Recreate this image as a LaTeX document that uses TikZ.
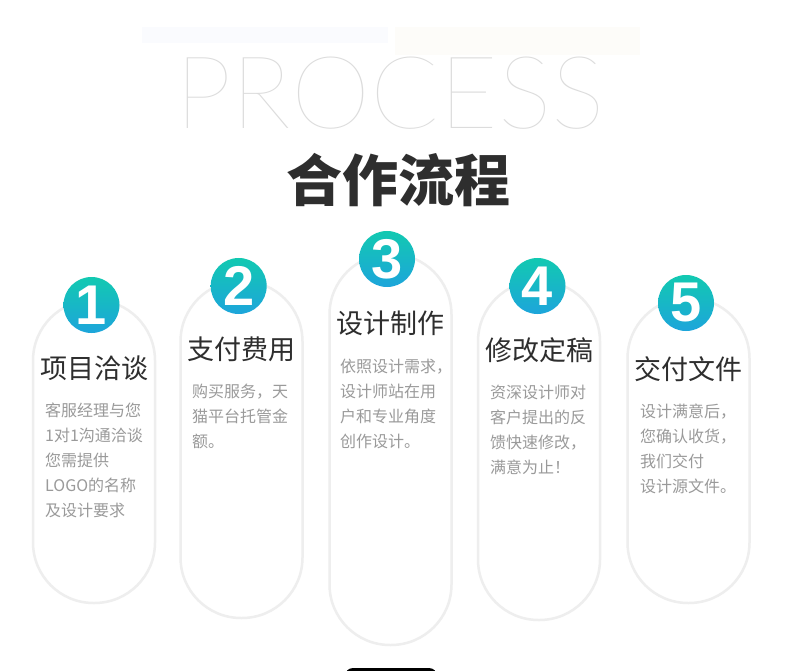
\documentclass[tikz,border=0pt]{standalone}
\usepackage{fontspec}
\setmainfont{Liberation Sans}
\newfontfamily\cjk{Noto Sans CJK SC}
\newfontfamily\thinfont{Lato Thin}
\newfontfamily\digitfont{Liberation Sans}
\definecolor{cardline}{HTML}{EEEEEE}
\definecolor{tealtop}{HTML}{12C9B1}
\definecolor{bluebot}{HTML}{1DA5DB}
\definecolor{headc}{HTML}{2E2E2E}
\definecolor{bodyc}{HTML}{9A9A9A}
\definecolor{procc}{HTML}{DCDCDC}
\definecolor{bandA}{HTML}{FAFBFE}
\definecolor{bandB}{HTML}{FDFCF9}
\tikzset{
  card/.style={draw=cardline, line width=2.5pt, fill=white, rounded corners=60.5pt,
    minimum width=122pt, inner sep=0pt},
  badge/.style={circle, minimum size=56pt, inner sep=0pt, top color=tealtop,
    bottom color=bluebot, text=white, font=\digitfont\bfseries\fontsize{56}{56}\selectfont},
  head/.style={text=headc, font=\cjk\fontsize{27}{27}\selectfont, inner sep=0pt, anchor=base},
  body/.style={text=bodyc, font=\cjk\fontsize{16}{25}\selectfont, inner sep=0pt,
    anchor=north west, text width=130pt, align=left},
  band/.style={inner sep=0pt, draw=none}
}
\begin{document}
\begin{tikzpicture}[x=1pt,y=-1pt]
\fill[white] (0,0) rectangle (790,671);
\useasboundingbox (0,0) rectangle (790,671);
\clip (0,0) rectangle (790,671);
% faint bands
\node[band, fill=bandA, minimum width=246pt, minimum height=16pt] (bandleft) at (265,35) {};
\node[band, fill=bandB, minimum width=245pt, minimum height=28pt] (bandright) at (517.5,41) {};
% titles
\node[text=procc, font=\thinfont\fontsize{101}{101}\selectfont, inner sep=0pt] (process) at (390,93) {PROCESS};
\node[text=headc, font=\cjk\bfseries\fontsize{56}{56}\selectfont, inner sep=0pt] (title) at (398,180) {合作流程};
% cards
\node[card, minimum height=303pt] (c1) at (94,451.5) {};
\node[card, minimum height=337pt] (c2) at (241.5,449.5) {};
\node[card, minimum height=391pt] (c3) at (390.5,449.5) {};
\node[card, minimum height=339pt] (c4) at (539,450.5) {};
\node[card, minimum height=305pt] (c5) at (688.5,450.5) {};
% badges
\node[badge] (b1) at (91.5,305) {1};
\node[badge] (b2) at (238.7,286) {2};
\node[badge] (b3) at (387,259) {3};
\node[badge] (b4) at (537.5,286) {4};
\node[badge] (b5) at (686,303) {5};
% headings
\node[head] (h1) at (94,378) {项目洽谈};
\node[head] (h2) at (241.5,359) {支付费用};
\node[head] (h3) at (390.5,333) {设计制作};
\node[head] (h4) at (539,360) {修改定稿};
\node[head] (h5) at (688.5,379) {交付文件};
% bodies
\node[body] (t1) at (45,403) {客服经理与您\\1对1沟通洽谈\\您需提供\\LOGO的名称\\及设计要求};
\node[body] (t2) at (192,384) {购买服务，天\\猫平台托管金\\额。};
\node[body] (t3) at (340,359) {依照设计需求，\\设计师站在用\\户和专业角度\\创作设计。};
\node[body] (t4) at (490,385) {资深设计师对\\客户提出的反\\馈快速修改，\\满意为止！};
\node[body] (t5) at (640,404) {设计满意后，\\您确认收货，\\我们交付\\设计源文件。};
% bottom button edge
\node[fill=black, rounded corners=8pt, minimum width=92pt, minimum height=30pt, inner sep=0pt] (btn) at (391,683) {};
\end{tikzpicture}
\end{document}
